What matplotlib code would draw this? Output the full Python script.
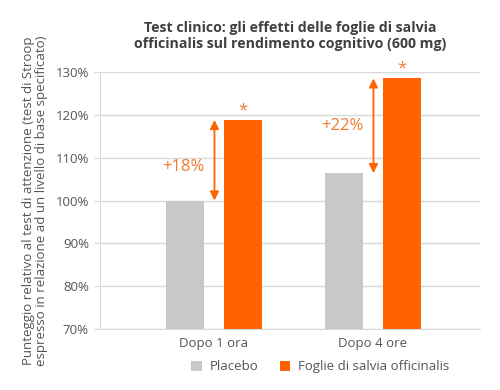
import matplotlib
matplotlib.use("Agg")
import matplotlib.pyplot as plt
import numpy as np

plt.rcParams['font.family'] = ['Open Sans', 'DejaVu Sans']

# dati
categorie = ["Dopo 1 ora", "Dopo 4 ore"]
placebo = [100.0, 106.4]
salvia = [118.8, 128.5]
aumenti = ["+18%", "+22%"]
pos_aumenti = [107.9, 117.3]
serie = ["Placebo", "Foglie di salvia officinalis"]
yticks = [70, 80, 90, 100, 110, 120, 130]

grigio = "#c8c8c8"
arancio = "#ff6200"
testo = "#555555"

fig = plt.figure(figsize=(5, 3.9), dpi=100)
ax = fig.add_axes([100 / 500, 1 - 329 / 390, 380 / 500, 257 / 390])

x = np.arange(len(categorie))
w = 0.239
off = 0.182
ax.bar(x - off, placebo, w, color=grigio, label=serie[0], zorder=2)
ax.bar(x + off, salvia, w, color=arancio, label=serie[1], zorder=2)

# frecce e percentuali
for i in range(len(categorie)):
    ax.annotate("", xy=(x[i] + 0.003, salvia[i]), xytext=(x[i] + 0.003, placebo[i]),
                arrowprops=dict(arrowstyle="<|-|>", color=arancio, lw=1.3,
                                mutation_scale=13, shrinkA=0, shrinkB=0), zorder=3)
    ax.text(x[i] - 0.195, pos_aumenti[i], aumenti[i],
            color="#f07a30", fontsize=12, ha="center", va="center")
    ax.text(x[i] + off, salvia[i] + 0.3, "*", color="#f07a30", fontsize=12,
            ha="center", va="bottom", clip_on=False)

ax.set_xlim(-0.717, 1.673)
ax.set_ylim(70, 130)
ax.set_yticks(yticks)
ax.set_yticklabels([f"{v}%" for v in yticks])
ax.set_xticks(x)
ax.set_xticklabels(categorie)
ax.grid(axis="y", color="#d9d9d9", lw=1, zorder=0)
for s in ["top", "right"]:
    ax.spines[s].set_visible(False)
ax.spines["left"].set_color("#d9d9d9")
ax.spines["bottom"].set_color("#d9d9d9")
ax.tick_params(axis="y", colors="#d9d9d9", labelcolor=testo, labelsize=9.5, length=4, pad=4)
ax.tick_params(axis="x", length=0, labelcolor=testo, labelsize=9.5, pad=6)

ax.set_ylabel("Punteggio relativo al test di attenzione (test di Stroop\n"
              "espresso in relazione ad un livello di base specificato)",
              color=testo, fontsize=9.5, labelpad=5, linespacing=1.05)

fig.text(0.58, 0.907, "Test clinico: gli effetti delle foglie di salvia\n"
         "officinalis sul rendimento cognitivo (600 mg)",
         ha="center", va="center", fontsize=10.2, fontweight="bold",
         color="#404040", linespacing=1.2)

ax.legend(loc="upper center", bbox_to_anchor=(0.58, -0.075), ncol=2, frameon=False,
          fontsize=9.5, labelcolor=testo, handlelength=0.8, handleheight=0.8,
          handletextpad=0.6, columnspacing=1.6)

fig.savefig("out.png", dpi=100)
